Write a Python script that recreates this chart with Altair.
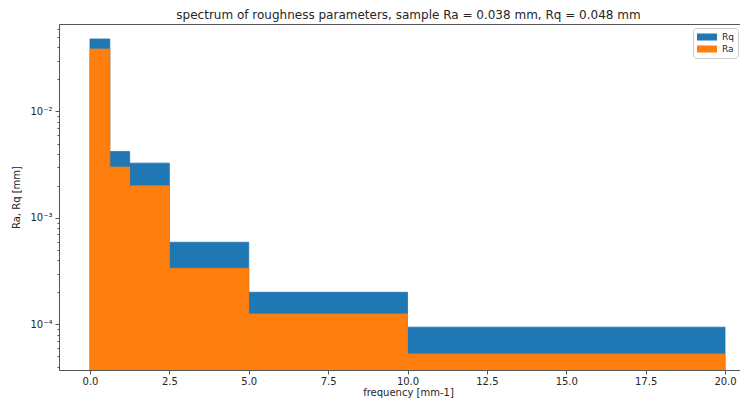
import altair as alt
import pandas as pd

# ---- data ----
bin_lo = [0.0, 0.625, 1.25, 2.5, 5.0, 10.0]
bin_hi = [0.625, 1.25, 2.5, 5.0, 10.0, 20.0]
rq_values = [0.048, 0.0042, 0.00327, 0.00059, 0.000200, 0.000094]
ra_values = [0.0386, 0.0030, 0.00200, 0.000336, 0.000125, 0.0000527]
series_names = ["Rq", "Ra"]
series_colors = ["#1f77b4", "#ff7f0e"]
x_ticks = [0.0, 2.5, 5.0, 7.5, 10.0, 12.5, 15.0, 17.5, 20.0]
y_major = [1e-4, 1e-3, 1e-2]
x_domain = [-0.976, 20.472]
y_domain = [3.72e-5, 0.0664]
y_minor = [m * 10.0 ** k for k in range(-5, -1) for m in range(2, 10)
           if y_domain[0] <= m * 10.0 ** k <= y_domain[1]]
y_floor = y_domain[0]
title_text = "spectrum of roughness parameters, sample Ra = 0.038 mm, Rq = 0.048 mm"

rows = []
for name, vals in zip(series_names, [rq_values, ra_values]):
    for lo, hi, v in zip(bin_lo, bin_hi, vals):
        rows.append({"series": name, "x0": lo, "x1": hi, "value": v, "base": y_floor})
df = pd.DataFrame(rows)

FONT = "DejaVu Sans"
TXT = "#262626"
AX = "#555555"

xscale = alt.Scale(domain=x_domain, nice=False, zero=False)
yscale = alt.Scale(type="log", domain=y_domain, nice=False)
cscale = alt.Scale(domain=series_names, range=series_colors)

decade_test = "abs(log(datum.value)/LN10 - round(log(datum.value)/LN10)) < 0.001"
label_expr = ("abs(datum.value - 0.01) < 1e-9 ? '10⁻²' : "
              "abs(datum.value - 0.001) < 1e-10 ? '10⁻³' : "
              "abs(datum.value - 0.0001) < 1e-11 ? '10⁻⁴' : ''")

yaxis = alt.Axis(
    values=y_major + y_minor,
    labelExpr=label_expr,
    tickSize={"condition": {"test": decade_test, "value": 4}, "value": 2},
    tickColor=AX,
    domainColor=AX,
    grid=False,
    labelFont=FONT,
    labelFontSize=10,
    labelColor=TXT,
    labelPadding=3,
    title="Ra, Rq [mm]",
    titleFont=FONT,
    titleFontSize=10,
    titleFontWeight="normal",
    titleColor=TXT,
    titlePadding=8,
)

xaxis_bottom = alt.Axis(
    values=x_ticks,
    format=".1f",
    tickSize=4,
    tickColor=AX,
    domainColor=AX,
    grid=False,
    labelFont=FONT,
    labelFontSize=10,
    labelColor=TXT,
    labelPadding=2,
    labelFlush=False,
    title="frequency [mm-1]",
    titleFont=FONT,
    titleFontSize=10,
    titleFontWeight="normal",
    titleColor=TXT,
    titlePadding=1,
    titleX=349,
)

# top spine, carrying the chart title
xaxis_top = alt.Axis(
    orient="top",
    labels=False,
    ticks=False,
    grid=False,
    domainColor=AX,
    title=title_text,
    titleFont=FONT,
    titleFontSize=12,
    titleFontWeight="normal",
    titleColor=TXT,
    titleBaseline="alphabetic",
    titlePadding=6,
    titleX=349,
)

legend = alt.Legend(
    title=None,
    orient="none",
    legendX=634,
    legendY=4,
    symbolType="M-1,-0.7H3V0.7H-1Z",
    symbolSize=100,
    symbolStrokeWidth=0,
    labelFont=FONT,
    labelFontSize=9,
    labelColor=TXT,
    labelOffset=15,
    padding=4,
    rowPadding=2,
    strokeColor="#cccccc",
    fillColor="white",
    cornerRadius=3,
)

base = alt.Chart(df)


def layer(name, xaxis):
    return base.transform_filter(alt.datum.series == name).mark_rect(
        clip=True, strokeWidth=0.8
    ).encode(
        x=alt.X("x0:Q", scale=xscale, axis=xaxis),
        x2="x1:Q",
        y=alt.Y("value:Q", scale=yscale, axis=yaxis),
        y2="base:Q",
        color=alt.Color("series:N", scale=cscale, legend=legend),
        stroke=alt.Stroke("series:N", scale=cscale, legend=None),
    )


chart = (
    alt.layer(layer("Rq", xaxis_bottom), layer("Ra", xaxis_top))
    .resolve_axis(x="independent")
    .properties(
        width=681,
        height=346,
        autosize=alt.AutoSizeParams(type="none"),
        padding={"left": 51, "top": 16, "right": 0, "bottom": 29},
    )
    .configure_view(stroke=None)
    .configure(background="white")
)

chart.save("out.html", embed_options={"renderer": "svg", "actions": False})
